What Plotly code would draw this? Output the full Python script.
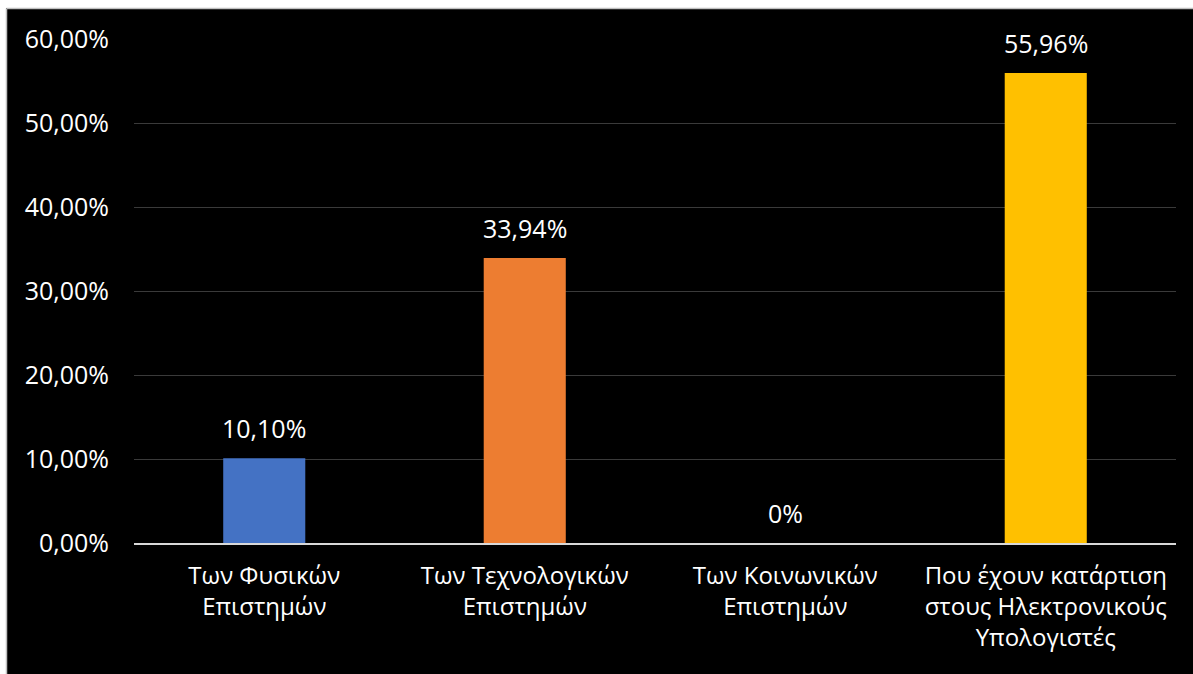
import plotly.graph_objects as go

# Categories (multi-line labels) and shares
categories = [
    "Των Φυσικών<br>Επιστημών",
    "Των Τεχνολογικών<br>Επιστημών",
    "Των Κοινωνικών<br>Επιστημών",
    "Που έχουν κατάρτιση<br>στους Ηλεκτρονικούς<br>Υπολογιστές",
]
shares = [0.1010, 0.3394, 0.0, 0.5596]
bar_colors = ["#4472C4", "#ED7D31", "#A5A5A5", "#FFC000"]
y_ticks = [0.0, 0.1, 0.2, 0.3, 0.4, 0.5, 0.6]


def pct_label(v):
    if v == 0:
        return "0%"
    return f"{v * 100:.2f}%".replace(".", ",")


FONT = "Open Sans, Noto Sans, sans-serif"
W, H = 1193, 674
ML, MR, MT, MB = 134, 17, 39, 131
PW, PH = W - ML - MR, H - MT - MB


def px_x(p):
    return (p - ML) / PW


def px_y(p):
    return 1 - (p - MT) / PH


fig = go.Figure(
    go.Bar(
        x=categories,
        y=shares,
        marker=dict(color=bar_colors, line=dict(width=0)),
        width=0.315,
        hoverinfo="skip",
    )
)

for cat, v in zip(categories, shares):
    fig.add_annotation(
        x=cat, y=v, text=pct_label(v), showarrow=False,
        yanchor="bottom", yshift=11,
        font=dict(family=FONT, size=25, color="white"),
    )

# White outer frame at top and left with a thin grey border
shapes = [
    dict(type="rect", xref="paper", yref="paper",
         x0=px_x(-5), x1=px_x(W + 5), y0=px_y(8), y1=px_y(-5),
         fillcolor="white", line=dict(width=0), layer="above"),
    dict(type="rect", xref="paper", yref="paper",
         x0=px_x(-5), x1=px_x(6), y0=px_y(H + 5), y1=px_y(-5),
         fillcolor="white", line=dict(width=0), layer="above"),
    dict(type="line", xref="paper", yref="paper",
         x0=px_x(6.5), x1=px_x(W + 5), y0=px_y(8.5), y1=px_y(8.5),
         line=dict(color="#bfbfbf", width=1.5), layer="above"),
    dict(type="line", xref="paper", yref="paper",
         x0=px_x(6.5), x1=px_x(6.5), y0=px_y(8.5), y1=px_y(H + 5),
         line=dict(color="#bfbfbf", width=1.5), layer="above"),
]

fig.update_layout(
    width=W, height=H,
    margin=dict(l=ML, r=MR, t=MT, b=MB, pad=0),
    paper_bgcolor="black",
    plot_bgcolor="black",
    separators=",.",
    showlegend=False,
    shapes=shapes,
    font=dict(family=FONT, color="white"),
)

fig.update_xaxes(
    showgrid=False,
    showline=True, linecolor="#d9d9d9", linewidth=2,
    ticks="",
    tickfont=dict(family=FONT, size=24, color="white"),
    ticklabelstandoff=10,
    fixedrange=True,
)

fig.update_yaxes(
    range=[0, 0.6],
    tickvals=y_ticks,
    tickformat=".2%",
    showgrid=True, gridcolor="#3a3a3a", gridwidth=1,
    zeroline=False,
    ticks="",
    tickfont=dict(family=FONT, size=25, color="white"),
    ticklabelstandoff=24,
    fixedrange=True,
)

fig.write_html("out.html")
